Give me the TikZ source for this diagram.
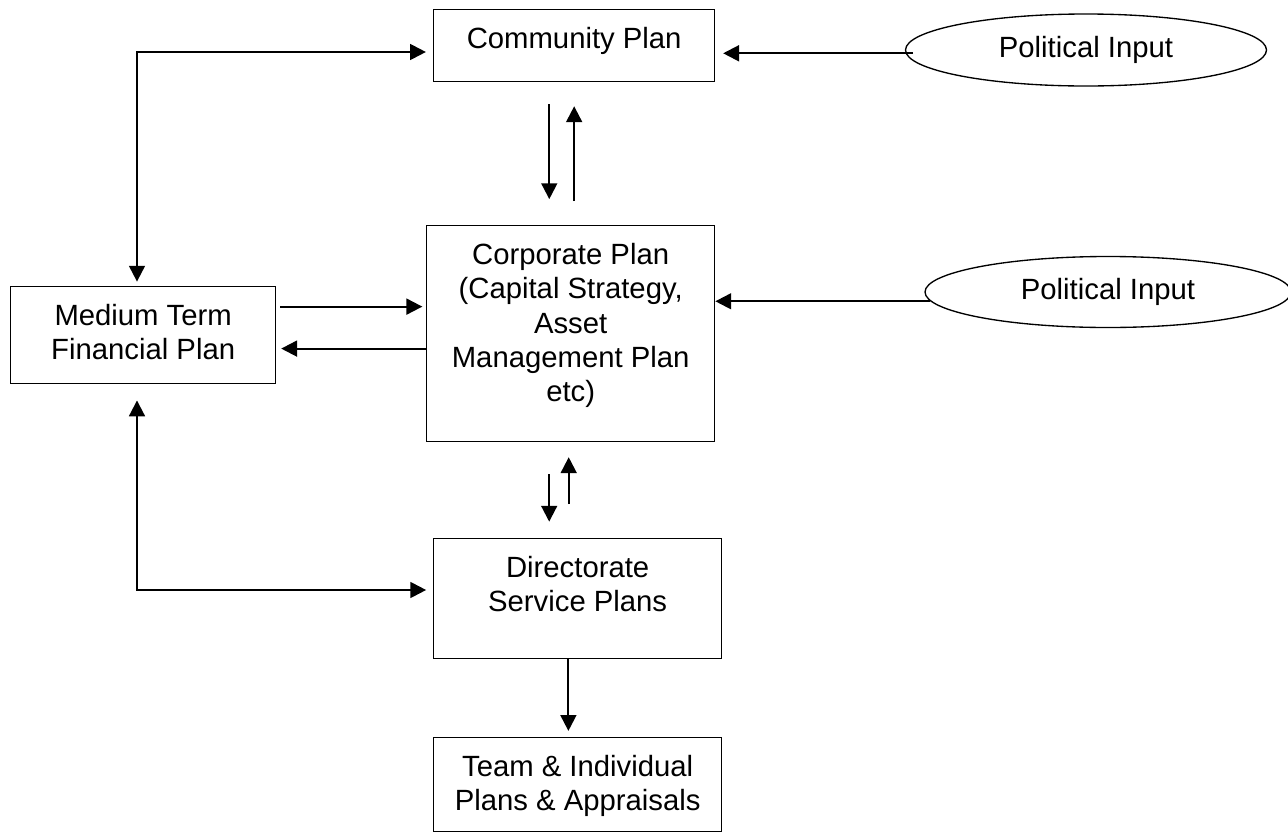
\documentclass[tikz,border=0pt]{standalone}
\usepackage{fontspec}
\setmainfont{Liberation Sans}
\usetikzlibrary{arrows.meta,shapes.geometric}
\newdimen\pxlen
\pxlen=0.0144cm
\def\plantext#1#2#3{\parbox[c][#2\pxlen][t]{#1\pxlen}{\centering\vspace*{6.2pt}\strut #3}}
\tikzset{
	plan/.style={draw,line width=0.55pt,inner sep=0pt,anchor=north west},
	input/.style={draw,ellipse,line width=0.55pt,inner sep=0pt,minimum height=72*\pxlen},
	link/.style={->,line width=0.85pt}
}
\begin{document}
\begin{tikzpicture}[x=0.0144cm,y=-0.0144cm,>={Triangle[length=6.5pt,width=6.5pt]},font=\fontsize{12pt}{14pt}\selectfont]
\useasboundingbox (0,0) rectangle (1288,832);
\node[plan] (comm) at (433,9) {\plantext{281}{72}{Community Plan}};
\node[plan] (corp) at (426,225) {\plantext{288}{216}{Corporate Plan\\(Capital Strategy,\\Asset\\Management Plan\\etc)}};
\node[plan] (mtfp) at (10,286) {\plantext{265}{97}{Medium Term\\Financial Plan}};
\node[plan] (dir) at (433,538) {\plantext{288}{120}{Directorate\\Service Plans}};
\node[plan] (team) at (433,737) {\plantext{288}{94}{Team \& Individual\\Plans \& Appraisals}};
\node[input,minimum width=361*\pxlen] (pol1) at (1086,50) {Political Input};
\node[input,minimum width=366*\pxlen,minimum height=71*\pxlen] (pol2) at (1108,292) {Political Input};

\coordinate (elbowtop) at (137,52);
\coordinate (elbowbot) at (137,590);
\draw[link,<->,shorten <=1.8pt,shorten >=2.9pt] (mtfp.north -| elbowtop) -- (elbowtop) -- (elbowtop -| comm.west);
\draw[link,<->,shorten <=6.6pt,shorten >=2.8pt] (mtfp.south -| elbowbot) -- (elbowbot) -- (elbowbot -| dir.west);

\coordinate (p1) at ([shift={(3.4pt,-1.35pt)}]pol1.west);
\coordinate (p2) at ([shift={(2.5pt,-3.8pt)}]pol2.west);
\draw[link,shorten >=3.2pt] (p1) -- (p1 -| comm.east);
\draw[link] (p2) -- (p2 -| corp.east);

\coordinate (m1) at ([yshift=11.7pt]mtfp.east);
\coordinate (m2) at ([yshift=-5.5pt]mtfp.east);
\draw[link,shorten <=1.5pt,shorten >=1.5pt] (m1) -- (m1 -| corp.west);
\draw[link,shorten >=2pt] (m2 -| corp.west) -- (m2);

\coordinate (c1) at ([xshift=-10.2pt]comm.south);
\draw[link,shorten <=9pt,shorten >=10.6pt] (c1) -- (c1 |- corp.north);
\draw[link,shorten <=9.8pt,shorten >=9.8pt] (comm.south |- corp.north) -- (comm.south);

\coordinate (c2) at ([xshift=-8.8pt]corp.south);
\coordinate (c3) at ([xshift=-0.8pt]corp.south);
\draw[link,shorten <=13.1pt,shorten >=6.7pt] (c2) -- (c2 |- dir.north);
\draw[link,shorten <=13.9pt,shorten >=6.1pt] (c3 |- dir.north) -- (c3);

\coordinate (d1) at ([xshift=-3.8pt]dir.south);
\draw[link,shorten >=2.5pt] (d1) -- (d1 |- team.north);
\end{tikzpicture}
\end{document}
